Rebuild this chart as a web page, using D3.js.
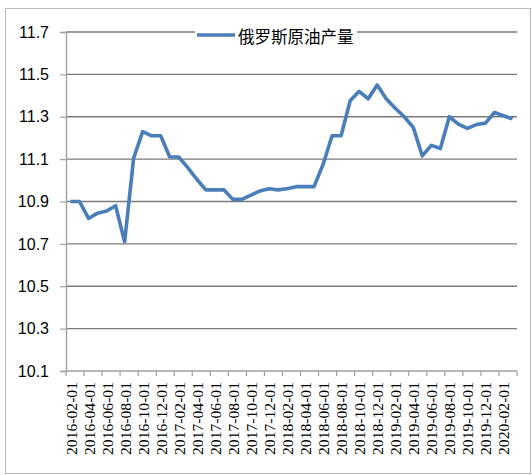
<!DOCTYPE html>
<html>
    <head>
        <meta charset="utf-8">
        <style>
            body { margin: 0; background: #fff; }
            svg { display: block; }
        </style>
    </head>
    <body>
        <svg id="chart"></svg>
        <script src="https://d3js.org/d3.v7.min.js"></script>
        <script>
            const months = [
                '2016-02-01','2016-03-01','2016-04-01','2016-05-01','2016-06-01','2016-07-01',
                '2016-08-01','2016-09-01','2016-10-01','2016-11-01','2016-12-01',
                '2017-01-01','2017-02-01','2017-03-01','2017-04-01','2017-05-01','2017-06-01',
                '2017-07-01','2017-08-01','2017-09-01','2017-10-01','2017-11-01','2017-12-01',
                '2018-01-01','2018-02-01','2018-03-01','2018-04-01','2018-05-01','2018-06-01',
                '2018-07-01','2018-08-01','2018-09-01','2018-10-01','2018-11-01','2018-12-01',
                '2019-01-01','2019-02-01','2019-03-01','2019-04-01','2019-05-01','2019-06-01',
                '2019-07-01','2019-08-01','2019-09-01','2019-10-01','2019-11-01','2019-12-01',
                '2020-01-01','2020-02-01','2020-03-01'
            ];
            const output = [
                10.90, 10.90, 10.82, 10.845, 10.855, 10.88,
                10.71, 11.105, 11.23, 11.21, 11.21,
                11.11, 11.11, 11.06, 11.005, 10.955, 10.955,
                10.955, 10.91, 10.91, 10.93, 10.95, 10.96,
                10.955, 10.96, 10.97, 10.97, 10.97, 11.075,
                11.21, 11.21, 11.375, 11.42, 11.385, 11.45,
                11.385, 11.34, 11.30, 11.25, 11.115, 11.165,
                11.15, 11.30, 11.265, 11.245, 11.263, 11.27,
                11.32, 11.305, 11.29
            ];
            const yTicks = [10.1, 10.3, 10.5, 10.7, 10.9, 11.1, 11.3, 11.5, 11.7];
            const seriesName = '俄罗斯原油产量';

            const width = 532;
            const height = 475;
            const plot = {left: 66, right: 517, top: 32, bottom: 371};

            const svg = d3.select('#chart')
                .attr('width', width).attr('height', height);

            // outer chart border
            svg.append('rect')
                .attr('x', 5.5).attr('y', 8.5)
                .attr('width', 525).attr('height', 465)
                .attr('fill', '#fff')
                .attr('stroke', '#bcbcbc');

            const x = d3.scaleBand().domain(months).range([plot.left, plot.right]);
            const y = d3.scaleLinear().domain([10.1, 11.7]).range([plot.bottom, plot.top]);

            // gridlines
            svg.append('g').selectAll('line')
                .data(yTicks.slice(1))
                .enter().append('line')
                .attr('x1', plot.left).attr('x2', plot.right)
                .attr('y1', d => y(d)).attr('y2', d => y(d))
                .style('stroke', '#7a7a7a')
                .style('stroke-width', '1.4px');

            // y axis
            const yAxis = svg.append('g')
                .attr('transform', `translate(${plot.left},0)`)
                .call(d3.axisLeft(y).tickValues(yTicks).tickFormat(d3.format('.1f')).tickSize(6).tickPadding(11));
            yAxis.select('.domain').attr('stroke', '#a0a0a0').attr('stroke-width', 1.4);
            yAxis.selectAll('.tick line').attr('stroke', '#a0a0a0').attr('stroke-width', 1.2);
            yAxis.selectAll('.tick text')
                .attr('fill', '#000')
                .style('font-family', '"Liberation Sans", Arial, sans-serif')
                .style('font-size', '16px');

            // x axis
            const xAxis = svg.append('g')
                .attr('transform', `translate(0,${plot.bottom})`);
            xAxis.append('line')
                .attr('x1', plot.left).attr('x2', plot.right)
                .attr('stroke', '#a0a0a0').attr('stroke-width', 1.4);
            const tickPos = months.filter((d, i) => i % 2 === 0).map(d => x(d)).concat([plot.right]);
            xAxis.selectAll('.xtick')
                .data(tickPos)
                .enter().append('line')
                .attr('class', 'xtick')
                .attr('x1', d => d).attr('x2', d => d)
                .attr('y1', 0).attr('y2', 5)
                .attr('stroke', '#a0a0a0').attr('stroke-width', 1.2);
            xAxis.selectAll('.xlabel')
                .data(months.filter((d, i) => i % 2 === 0))
                .enter().append('text')
                .attr('class', 'xlabel')
                .attr('transform', d => `translate(${x(d) + x.bandwidth() / 2 + 1},11) rotate(-90)`)
                .attr('text-anchor', 'end')
                .attr('dominant-baseline', 'central')
                .attr('textLength', 73)
                .attr('lengthAdjust', 'spacingAndGlyphs')
                .style('font-family', '"Liberation Serif", "Times New Roman", serif')
                .style('font-size', '15px')
                .style('fill', '#000')
                .text(d => d);

            // series line
            const line = d3.line()
                .x((d, i) => x(months[i]) + x.bandwidth() / 2)
                .y(d => y(d));
            svg.append('path')
                .datum(output)
                .attr('d', line)
                .style('fill', 'none')
                .style('stroke', '#4a7ebb')
                .style('stroke-width', '3.6px')
                .style('stroke-linejoin', 'round');

            // legend
            const legend = svg.append('g');
            legend.append('rect')
                .attr('x', 195).attr('y', 26)
                .attr('width', 162).attr('height', 19)
                .attr('fill', '#fff');
            legend.append('line')
                .attr('x1', 197).attr('x2', 235)
                .attr('y1', 35).attr('y2', 35)
                .style('stroke', '#4a7ebb')
                .style('stroke-width', '3.6px');
            legend.append('text')
                .attr('x', 238).attr('y', 36)
                .attr('dominant-baseline', 'central')
                .style('font-family', '"Noto Sans CJK SC", sans-serif')
                .style('font-size', '16.5px')
                .style('fill', '#000')
                .text(seriesName);
        </script>
    </body>
</html>
